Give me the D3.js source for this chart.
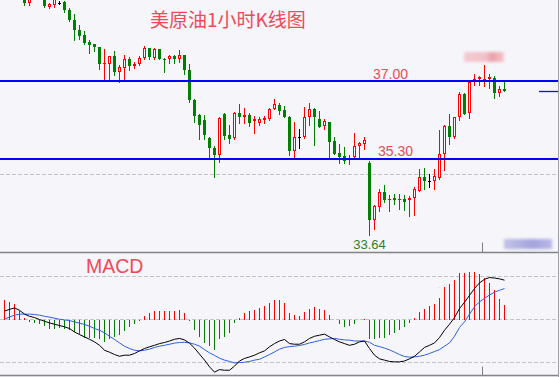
<!DOCTYPE html>
<html>
<head>
<meta charset="utf-8">
<script src="https://cdn.jsdelivr.net/npm/d3@7"></script>
<style>
    html, body { margin: 0; padding: 0; background: #f5f5fa; }
    svg { display: block; }
</style>
</head>
<body>
<div id="chart"></div>
<script>
// hourly candles (first few sit above the visible area)
const opens = [38.95,38.92,38.90,38.86,38.86,38.69,38.84,38.88,38.88,38.62,
    38.65,38.71,38.73,38.55,38.34,38.12,38.01,37.84,37.80,37.75,
    37.36,37.36,37.54,37.20,37.29,37.49,37.33,37.36,37.51,37.72,
    37.51,37.69,37.49,37.48,37.54,37.47,37.57,37.23,36.58,36.26,
    36.15,35.75,35.53,35.39,36.29,35.82,35.75,36.31,36.21,36.26,
    36.13,36.09,36.15,36.18,36.40,36.47,36.36,36.21,35.48,35.78,
    35.78,36.21,36.40,36.18,36.02,36.10,35.70,35.44,35.37,35.29,
    35.35,35.58,35.63,35.22,33.98,34.26,34.57,34.40,34.45,34.40,
    34.43,34.40,34.45,34.61,34.90,34.83,34.81,34.89,35.40,36.02,
    35.77,36.21,36.71,36.31,36.98,37.05,36.99,37.04,37.07,36.73,
    36.82];
const highs = [39.02,38.98,38.96,38.93,38.90,38.88,38.92,38.95,38.92,38.70,
    38.82,38.75,38.75,38.59,38.45,38.21,38.10,37.90,37.80,37.75,
    37.70,37.54,37.65,37.34,37.56,37.52,37.41,37.54,37.76,37.73,
    37.72,37.70,37.51,37.56,37.56,37.67,37.57,37.36,36.60,36.29,
    36.26,35.78,35.58,36.21,36.31,36.05,36.33,36.49,36.42,36.31,
    36.24,36.21,36.24,36.42,36.60,36.51,36.45,36.23,36.11,35.95,
    36.44,36.51,36.42,36.35,36.18,36.10,35.77,35.63,35.57,35.39,
    35.86,35.66,35.78,35.26,34.30,34.65,34.74,34.51,34.53,34.53,
    34.52,34.50,34.69,35.08,35.10,34.97,35.08,35.93,36.05,36.27,
    36.22,36.75,36.73,36.98,37.15,37.11,37.34,37.16,37.11,36.89,
    36.98];
const lows = [38.88,38.85,38.82,38.80,38.66,38.66,38.79,38.80,38.62,38.60,
    38.62,38.68,38.50,38.30,37.90,37.92,37.80,37.61,37.65,37.27,
    37.02,37.02,37.12,36.97,37.02,37.25,37.28,37.34,37.48,37.47,
    37.47,37.47,37.20,37.40,37.40,37.41,37.15,36.54,36.10,35.73,
    35.73,35.32,34.90,35.24,35.73,35.64,35.73,36.08,36.08,36.02,
    35.87,36.05,36.08,36.16,36.38,36.28,36.21,35.39,35.32,35.53,
    35.75,36.04,35.60,36.00,35.95,35.34,35.41,35.21,35.22,35.19,
    35.34,35.35,35.51,33.64,33.78,34.16,34.37,34.16,34.32,34.21,
    34.18,34.05,34.08,34.61,34.64,34.68,34.65,34.87,35.06,35.63,
    35.75,36.15,36.28,36.20,36.91,36.91,36.89,36.85,36.62,36.67,
    36.78];
const closes = [38.92,38.90,38.86,38.88,38.69,38.84,38.88,38.82,38.63,38.68,
    38.78,38.71,38.54,38.33,38.12,37.99,37.83,37.78,37.74,37.36,
    37.39,37.54,37.20,37.30,37.49,37.32,37.38,37.51,37.73,37.52,
    37.69,37.48,37.47,37.54,37.48,37.56,37.23,36.58,36.24,36.04,
    35.82,35.53,35.39,36.20,35.80,35.73,36.31,36.22,36.26,36.09,
    36.17,36.17,36.20,36.40,36.49,36.35,36.22,35.48,35.78,35.78,
    36.21,36.40,36.21,36.00,36.13,35.68,35.41,35.35,35.26,35.33,
    35.58,35.64,35.71,33.96,34.28,34.59,34.40,34.43,34.40,34.43,
    34.37,34.46,34.65,34.90,34.81,34.83,34.93,35.40,36.02,35.78,
    36.21,36.71,36.29,36.97,37.05,37.09,37.05,37.08,36.74,36.82,
    36.78];

// MACD panel
const macdHist = [0.093,0.082,0.071,0.039,0.005,-0.011,-0.015,-0.022,-0.031,-0.042,
    -0.042,-0.039,-0.042,-0.05,-0.057,-0.068,-0.088,-0.088,-0.084,-0.093,
    -0.104,-0.093,-0.08,-0.073,-0.053,-0.037,-0.022,-0.006,0.015,0.028,
    0.04,0.04,0.04,0.04,0.04,0.043,0.031,-0.007,-0.05,-0.08,
    -0.108,-0.124,-0.14,-0.093,-0.08,-0.062,-0.015,0.008,0.031,0.04,
    0.043,0.054,0.062,0.079,0.09,0.09,0.079,0.031,0.02,0.015,
    0.036,0.051,0.056,0.047,0.043,0.02,-0.003,-0.022,-0.034,-0.031,
    -0.019,-0.002,0.003,-0.093,-0.093,-0.084,-0.084,-0.073,-0.062,-0.047,
    -0.037,-0.015,0.005,0.036,0.048,0.062,0.071,0.102,0.152,0.164,
    0.183,0.214,0.214,0.219,0.219,0.211,0.191,0.171,0.136,0.094,
    0.067];
const macdDif = [0.039,0.047,0.054,0.043,0.025,0.015,0.009,0,-0.008,-0.016,
    -0.022,-0.028,-0.034,-0.042,-0.058,-0.07,-0.081,-0.092,-0.104,-0.12,
    -0.143,-0.152,-0.163,-0.171,-0.166,-0.166,-0.158,-0.146,-0.135,-0.127,
    -0.12,-0.112,-0.107,-0.1,-0.092,-0.088,-0.095,-0.11,-0.133,-0.161,
    -0.189,-0.22,-0.245,-0.233,-0.236,-0.236,-0.217,-0.193,-0.181,-0.174,
    -0.166,-0.155,-0.146,-0.127,-0.112,-0.1,-0.093,-0.112,-0.115,-0.115,
    -0.104,-0.088,-0.078,-0.073,-0.068,-0.081,-0.093,-0.104,-0.112,-0.12,
    -0.115,-0.104,-0.1,-0.135,-0.166,-0.183,-0.189,-0.195,-0.197,-0.197,
    -0.193,-0.183,-0.171,-0.151,-0.13,-0.12,-0.109,-0.084,-0.05,-0.022,
    0.009,0.051,0.08,0.112,0.144,0.17,0.187,0.195,0.193,0.189,
    0.183];
const macdDea = [0.001,0.012,0.02,0.025,0.025,0.025,0.023,0.02,0.015,0.011,
    0.006,0.001,-0.002,-0.005,-0.011,-0.017,-0.023,-0.031,-0.042,-0.05,
    -0.062,-0.078,-0.093,-0.109,-0.124,-0.135,-0.143,-0.146,-0.143,-0.138,
    -0.13,-0.124,-0.12,-0.115,-0.11,-0.107,-0.106,-0.109,-0.115,-0.124,
    -0.14,-0.155,-0.167,-0.18,-0.189,-0.195,-0.202,-0.2,-0.199,-0.195,
    -0.189,-0.185,-0.174,-0.163,-0.151,-0.138,-0.13,-0.126,-0.124,-0.121,
    -0.116,-0.109,-0.104,-0.098,-0.092,-0.09,-0.088,-0.092,-0.095,-0.096,
    -0.1,-0.1,-0.1,-0.106,-0.12,-0.126,-0.133,-0.141,-0.152,-0.163,
    -0.172,-0.175,-0.174,-0.171,-0.166,-0.158,-0.149,-0.14,-0.124,-0.109,
    -0.078,-0.037,-0.011,0.025,0.059,0.082,0.098,0.114,0.127,0.136,
    0.144];

const levels = [37.00, 35.30];       // drawn support / resistance
const priceGrid = [34.97];           // dashed grid in price panel
const macdGrid = [0.2, 0, -0.2];     // dashed grid in MACD panel
const timeTicks = [95.6];            // candle-index position of the time tick
const title = "美原油1小时K线图";

const bg = "#f5f5fa";
const upColor = "#ff0000", downColor = "#008000";
const width = 560, height = 377;
const priceTop = 0, priceBottom = 252.5, macdTop = 252.5, macdBottom = 375.5, plotRight = 558;

const svg = d3.select("#chart").append("svg")
    .attr("width", width)
    .attr("height", height);

svg.append("rect").attr("width", width).attr("height", height).attr("fill", bg);

const defs = svg.append("defs");
defs.append("clipPath").attr("id", "clipPrice")
    .append("rect").attr("x", 0).attr("y", priceTop).attr("width", plotRight).attr("height", priceBottom - priceTop);
defs.append("clipPath").attr("id", "clipMacd")
    .append("rect").attr("x", 0).attr("y", macdTop).attr("width", plotRight).attr("height", macdBottom - macdTop);
defs.append("filter").attr("id", "blur")
    .attr("x", "-20%").attr("y", "-40%").attr("width", "140%").attr("height", "180%")
    .append("feGaussianBlur").attr("stdDeviation", 1.6);

// scales
const x = d3.scaleLinear().domain([0, 100]).range([4.5, 504.5]);
const y = d3.scaleLinear().domain([35.3, 37]).range([159, 81]);
const ym = d3.scaleLinear().domain([-0.2, 0.2]).range([362.5, 276.5]);

const px = v => Math.round(v) + 0.5;

const candles = opens.map((o, i) => ({ i: i, o: o, h: highs[i], l: lows[i], c: closes[i] }));

// ---- price panel ----
const price = svg.append("g").attr("clip-path", "url(#clipPrice)");

price.selectAll(".grid")
    .data(priceGrid)
    .enter().append("line")
    .attr("class", "grid")
    .attr("x1", 0).attr("x2", plotRight)
    .attr("y1", d => px(y(d))).attr("y2", d => px(y(d)))
    .attr("stroke", "#c4c4c8")
    .attr("stroke-dasharray", "4,2");

// title
svg.append("text")
    .attr("x", 150)
    .attr("y", 27)
    .attr("fill", "#f04a58")
    .style("font-family", "'Noto Sans CJK SC', sans-serif")
    .style("font-size", "19px")
    .text(title);

// wicks
price.selectAll(".wick")
    .data(candles)
    .enter().append("line")
    .attr("class", "wick")
    .attr("x1", d => x(d.i)).attr("x2", d => x(d.i))
    .attr("y1", d => Math.round(y(d.h)))
    .attr("y2", d => Math.round(y(d.l)) + 1)
    .attr("stroke", d => d.c > d.o ? upColor : (d.c < d.o ? downColor : "#000"));

// falling candles: filled green bodies
price.selectAll(".down")
    .data(candles.filter(d => d.c < d.o))
    .enter().append("rect")
    .attr("class", "down")
    .attr("x", d => x(d.i) - 1.5)
    .attr("width", 3)
    .attr("y", d => Math.round(y(d.o)))
    .attr("height", d => Math.max(1, Math.round(y(d.c)) - Math.round(y(d.o))))
    .attr("fill", downColor);

// rising candles: hollow red bodies (tiny ones filled)
const ups = candles.filter(d => d.c > d.o);
price.selectAll(".up")
    .data(ups)
    .enter().append("rect")
    .attr("class", "up")
    .each(function (d) {
        const top = Math.round(y(d.c)), bot = Math.round(y(d.o));
        const r = d3.select(this);
        if (bot - top < 3) {
            r.attr("x", x(d.i) - 1.5).attr("width", 3)
                .attr("y", top).attr("height", Math.max(1, bot - top))
                .attr("fill", upColor);
        } else {
            r.attr("x", x(d.i) - 1).attr("width", 2)
                .attr("y", top + 0.5).attr("height", bot - top - 1)
                .attr("fill", bg).attr("stroke", upColor);
        }
    });

// doji crosses
price.selectAll(".doji")
    .data(candles.filter(d => d.c === d.o))
    .enter().append("line")
    .attr("class", "doji")
    .attr("x1", d => x(d.i) - 1.5).attr("x2", d => x(d.i) + 1.5)
    .attr("y1", d => px(y(d.o))).attr("y2", d => px(y(d.o)))
    .attr("stroke", "#000");

// level lines
price.selectAll(".level")
    .data(levels)
    .enter().append("line")
    .attr("class", "level")
    .attr("x1", 0).attr("x2", plotRight)
    .attr("y1", d => y(d)).attr("y2", d => y(d))
    .attr("stroke", "#0000ff")
    .attr("stroke-width", 2);

const levelLabelX = [373, 378];
svg.selectAll(".levelLabel")
    .data(levels)
    .enter().append("text")
    .attr("class", "levelLabel")
    .attr("x", (d, i) => levelLabelX[i])
    .attr("y", (d, i) => y(d) - (i === 0 ? 2.5 : 3.5))
    .attr("fill", "#f04a58")
    .style("font-family", "'Liberation Sans', Arial, sans-serif")
    .style("font-size", "14px")
    .text(d => d3.format(".2f")(d));

// lowest low marker
const lowIdx = d3.minIndex(lows);
svg.append("text")
    .attr("x", x(lowIdx))
    .attr("y", y(lows[lowIdx]) + 14)
    .attr("text-anchor", "middle")
    .attr("fill", "#2f7f2a")
    .style("font-family", "'Liberation Sans', Arial, sans-serif")
    .style("font-size", "13px")
    .text(d3.format(".2f")(lows[lowIdx]));

// last price marker on the right edge
const last = closes[closes.length - 1];
svg.append("line")
    .attr("x1", 539).attr("x2", plotRight)
    .attr("y1", px(y(last))).attr("y2", px(y(last)))
    .attr("stroke", "#1a1aa8")
    .attr("stroke-width", 1.3);

// blurred price tags (obscured in the source picture)
const blurG = svg.append("g").attr("filter", "url(#blur)");
const pinkGrad = defs.append("linearGradient").attr("id", "pinkGrad");
pinkGrad.append("stop").attr("offset", "0%").attr("stop-color", "#f4ccd3");
pinkGrad.append("stop").attr("offset", "55%").attr("stop-color", "#f2c0c8");
pinkGrad.append("stop").attr("offset", "70%").attr("stop-color", "#ec9ea9");
pinkGrad.append("stop").attr("offset", "100%").attr("stop-color", "#f3c6cd");
blurG.append("rect").attr("x", 464).attr("y", 52).attr("width", 40).attr("height", 10).attr("fill", "url(#pinkGrad)");
const blueGrad = defs.append("linearGradient").attr("id", "blueGrad");
blueGrad.append("stop").attr("offset", "0%").attr("stop-color", "#c2c2e8");
blueGrad.append("stop").attr("offset", "60%").attr("stop-color", "#a4a4de");
blueGrad.append("stop").attr("offset", "100%").attr("stop-color", "#b8b8e6");
blurG.append("rect").attr("x", 504).attr("y", 239).attr("width", 48).attr("height", 10).attr("fill", "url(#blueGrad)");

// ---- MACD panel ----
const macd = svg.append("g").attr("clip-path", "url(#clipMacd)");

macd.selectAll(".mgrid")
    .data(macdGrid)
    .enter().append("line")
    .attr("class", "mgrid")
    .attr("x1", 0).attr("x2", plotRight)
    .attr("y1", d => ym(d)).attr("y2", d => ym(d))
    .attr("stroke", "#c4c4c8")
    .attr("stroke-dasharray", "4,2");

macd.selectAll(".bar")
    .data(macdHist)
    .enter().append("line")
    .attr("class", "bar")
    .attr("x1", (d, i) => x(i)).attr("x2", (d, i) => x(i))
    .attr("y1", Math.round(ym(0)))
    .attr("y2", d => Math.round(ym(d)))
    .attr("stroke", d => d >= 0 ? upColor : downColor);

const line = d3.line()
    .x((d, i) => x(i))
    .y(d => ym(d));

macd.append("path")
    .attr("d", line(macdDea))
    .attr("fill", "none")
    .attr("stroke", "#2f5fe0")
    .attr("stroke-width", 1);

macd.append("path")
    .attr("d", line(macdDif))
    .attr("fill", "none")
    .attr("stroke", "#000")
    .attr("stroke-width", 1);

svg.append("text")
    .attr("x", 86)
    .attr("y", 272.5)
    .attr("fill", "#f04a58")
    .style("font-family", "'Liberation Sans', Arial, sans-serif")
    .style("font-size", "19.5px")
    .text("MACD");

// ---- frame ----
svg.append("line")
    .attr("x1", 0).attr("x2", plotRight + 1)
    .attr("y1", priceBottom).attr("y2", priceBottom)
    .attr("stroke", "#858585").attr("stroke-width", 1.5);
svg.append("line")
    .attr("x1", 0).attr("x2", plotRight + 1)
    .attr("y1", macdBottom).attr("y2", macdBottom)
    .attr("stroke", "#858585").attr("stroke-width", 1.5);
svg.append("line")
    .attr("x1", plotRight + 0.5).attr("x2", plotRight + 0.5)
    .attr("y1", 0).attr("y2", height)
    .attr("stroke", "#a0a0a8");

timeTicks.forEach(t => {
    const tx = px(x(t));
    svg.append("line").attr("x1", tx).attr("x2", tx).attr("y1", priceBottom - 10).attr("y2", priceBottom)
        .attr("stroke", "#808080");
    svg.append("line").attr("x1", tx).attr("x2", tx).attr("y1", macdBottom - 9).attr("y2", macdBottom)
        .attr("stroke", "#808080");
});
</script>
</body>
</html>
